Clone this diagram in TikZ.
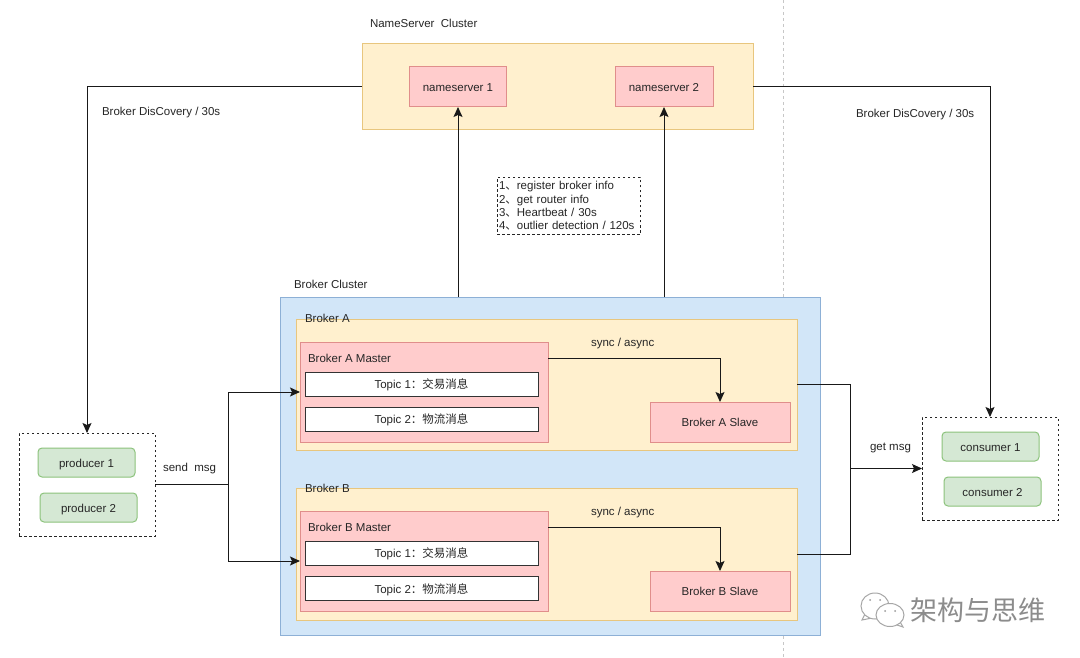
\documentclass[tikz,border=0pt]{standalone}
\usepackage{fontspec}
\setmainfont{Liberation Sans}
\newfontfamily\cjk{Noto Sans CJK SC}
\usetikzlibrary{arrows.meta,positioning,calc}
\tikzset{
  base/.style={inner sep=0pt,outer sep=0pt,align=center,text=black!85,font=\fontsize{11.5}{13.5}\selectfont},
  boxtext/.style={base,text height=9.8pt,text depth=0pt},
  yellowbox/.style={boxtext,draw=yellowline,fill=yellowfill,line width=1pt},
  redbox/.style={boxtext,draw=redline,fill=redfill,line width=1pt},
  bluebox/.style={boxtext,draw=blueline,fill=bluefill,line width=1pt},
  greenbox/.style={boxtext,draw=greenline,fill=greenfill,line width=1pt,rounded corners=4pt},
  topicbox/.style={boxtext,draw=black!80,fill=white,line width=1pt,minimum width=233pt,minimum height=24pt},
  groupbox/.style={base,draw=black!85,dashed,dash pattern=on 2.5pt off 2.5pt,line width=.9pt},
  lab/.style={base,anchor=west},
  conn/.style={draw=black!90,line width=1pt},
  arr/.style={conn,-{Stealth[length=10pt,width=9pt,inset=2pt]}}
}
\definecolor{yellowline}{HTML}{E8C67E}
\definecolor{yellowfill}{HTML}{FFF0CE}
\definecolor{redline}{HTML}{E08E8B}
\definecolor{redfill}{HTML}{FFCCCC}
\definecolor{blueline}{HTML}{8DB0D6}
\definecolor{bluefill}{HTML}{D2E6F8}
\definecolor{greenline}{HTML}{8CC37C}
\definecolor{greenfill}{HTML}{D5E8D4}
\begin{document}
\begin{tikzpicture}[x=1pt,y=-1pt]
\useasboundingbox (0,0) rectangle (1080,658);
\fill[white] (0,0) rectangle (1080,658);
\coordinate (divtop) at (783,0);
\coordinate (divbot) at (783,658);
\draw[black!22,dashed,dash pattern=on 3pt off 3pt,line width=1pt] (divtop) -- (divbot);

% NameServer
\node[yellowbox,minimum width=391pt,minimum height=86pt] (nsc) at (557.5,87) {};
\node[redbox,minimum width=97pt,minimum height=40pt] (n1) at (458,87) {nameserver 1};
\node[redbox,minimum width=98pt,minimum height=40pt] (n2) at (664,87) {nameserver 2};
\node[lab] (nsl) at (370,23) {NameServer\ \ Cluster};

% Broker cluster
\node[bluebox,minimum width=540pt,minimum height=338pt] (bc) at (550,466) {};
\node[lab] (bcl) at (294,284.5) {Broker Cluster};
\node[yellowbox,minimum width=501pt,minimum height=131pt] (ba) at (546.5,384.5) {};
\node[yellowbox,minimum width=501pt,minimum height=132pt] (bb) at (546.5,554) {};
\node[lab] (bal) at (305,318.5) {Broker A};
\node[lab] (bbl) at (305,488) {Broker B};

\node[redbox,minimum width=248pt,minimum height=100pt] (am) at (424,392) {};
\node[lab] (aml) at (308,358) {Broker A Master};
\node[topicbox] (at1) at (421.5,384) {Topic 1{\cjk：交易消息}};
\node[topicbox] (at2) at (421.5,419) {Topic 2{\cjk：物流消息}};
\node[redbox,minimum width=140pt,minimum height=40pt] (as) at (720,422) {Broker A Slave};

\node[redbox,minimum width=248pt,minimum height=100pt] (bm) at (424,561) {};
\node[lab] (bml) at (308,527) {Broker B Master};
\node[topicbox] (bt1) at (421.5,553) {Topic 1{\cjk：交易消息}};
\node[topicbox] (bt2) at (421.5,588.5) {Topic 2{\cjk：物流消息}};
\node[redbox,minimum width=140pt,minimum height=40pt] (bs) at (720,591) {Broker B Slave};

% Note
\node[groupbox,minimum width=143pt,minimum height=57pt,align=left,anchor=north west,text width=139pt,inner xsep=2pt,font=\fontsize{11.5}{13.4}\selectfont] (note) at (497,177.5) {1{\cjk、}register broker info\\2{\cjk、}get router info\\3{\cjk、}Heartbeat / 30s\\4{\cjk、}outlier detection / 120s};

% Producers and consumers
\node[groupbox,minimum width=136pt,minimum height=103pt] (pg) at (87,484.5) {};
\node[greenbox,minimum width=97pt,minimum height=29pt] (p1) at (86.5,462.5) {producer 1};
\node[greenbox,minimum width=97pt,minimum height=29pt] (p2) at (88.5,507.5) {producer 2};
\node[groupbox,minimum width=136pt,minimum height=103pt] (cg) at (990,468.5) {};
\node[greenbox,minimum width=97pt,minimum height=29pt] (c1) at (990.5,446.5) {consumer 1};
\node[greenbox,minimum width=97pt,minimum height=29pt] (c2) at (992.5,491.5) {consumer 2};

% Labels
\node[lab] (dl) at (102,112.5) {Broker DisCovery / 30s};
\node[lab] (dr) at (856,115) {Broker DisCovery / 30s};
\node[lab] (sa) at (591,344) {sync / async};
\node[lab] (sb) at (591,513) {sync / async};
\node[lab] (sm) at (163,468.5) {send\ \ msg};
\node[lab] (gm) at (870,448) {get msg};

% Connectors
\draw[arr] (nsc.west) -| (pg.north);
\draw[arr] (nsc.east) -| (cg.north);
\draw[arr] (n1.south |- bc.north) -- (n1.south);
\draw[arr] (n2.south |- bc.north) -- (n2.south);
\coordinate (pj) at (228,484.5);
\draw[conn] (pg.east) -- (pj);
\draw[arr] (pj) |- (am.west);
\draw[arr] (pj) |- (bm.west);
\draw[arr] (aml.east -| am.east) -| (as.north);
\draw[arr] (bml.east -| bm.east) -| (bs.north);
\coordinate (cj) at (850,468.5);
\draw[conn] (ba.east) -| (cj);
\draw[conn] (bb.east) -| (cj);
\draw[arr] (cj) -- (cg.west);

% Watermark
\begin{scope}[draw=black!35,fill=white,line width=1pt]
\coordinate (wa) at (875,606);
\coordinate (wb) at (890,615);
\filldraw (862,620) -- (866,612) -- (872,618) -- cycle;
\filldraw (wa) ellipse (14pt and 13pt);
\filldraw (903,627) -- (899,620) -- (894,624) -- cycle;
\filldraw (wb) ellipse (14pt and 11.5pt);
\fill[black!40] (870,600) circle (1pt) (880,600) circle (1pt) (885,611) circle (1pt) (895,611) circle (1pt);
\end{scope}
\node[base,anchor=west,text=black!45,font=\cjk\fontsize{27}{29}\selectfont] (wm) at (910,610) {架构与思维};
\end{tikzpicture}
\end{document}
